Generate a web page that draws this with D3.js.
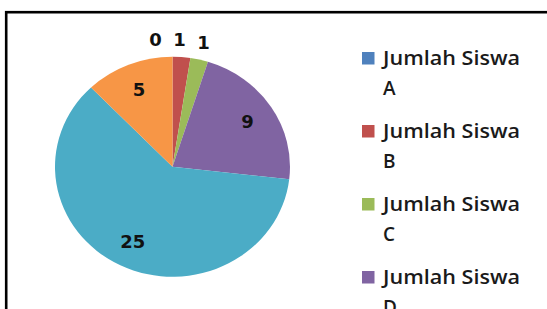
<!DOCTYPE html>
<html>
<head>
<meta charset="utf-8">
<script src="https://cdn.jsdelivr.net/npm/d3@7"></script>
<style>
  html, body { margin: 0; padding: 0; background: #fff; }
  svg { display: block; }
</style>
</head>
<body>
<div class="chart"></div>
<script>
// data
var categories = ["Jumlah Siswa A", "Jumlah Siswa B", "Jumlah Siswa C", "Jumlah Siswa D", "Jumlah Siswa E", "Jumlah Siswa F"];
var values = [0, 1, 1, 9, 25, 5];
var colors = ["#4F81BD", "#C0504D", "#9BBB59", "#8064A2", "#4BACC6", "#F79646"];
var legendShown = 4; // the rest of the legend falls outside the picture

(function () {
    var width = 547, height = 309;
    var cx = 172.5, cy = 166.7;
    var rx = 117.5, ry = 110;

    var svg = d3.select(".chart").append("svg")
        .attr("width", width)
        .attr("height", height);

    // frame of the chart area (runs off the right and bottom)
    svg.append("rect")
        .attr("x", 6.2)
        .attr("y", 12.2)
        .attr("width", width + 20)
        .attr("height", height + 20)
        .attr("fill", "none")
        .attr("stroke", "#000")
        .attr("stroke-width", 2.6);

    var pie = d3.pie().sort(null).value(function (d) { return d; });
    var arcs = pie(values);

    // the pie is a little wider than tall in the picture
    var g = svg.append("g")
        .attr("transform", "translate(" + cx + "," + cy + ") scale(" + (rx / ry) + ",1)");

    var arc = d3.arc().innerRadius(0).outerRadius(ry);

    g.selectAll("path")
        .data(arcs)
        .enter().append("path")
        .attr("d", arc)
        .attr("fill", function (d, i) { return colors[i]; });

    /*
        Labels: big slices inside, small ones just outside
    */
    var inner = d3.arc().innerRadius(ry * 0.76).outerRadius(ry * 0.76);
    var outer = d3.arc().innerRadius(ry * 1.16).outerRadius(ry * 1.16);
    var labels = arcs.map(function (d, i) {
        var share = (d.endAngle - d.startAngle) / (2 * Math.PI);
        var isOut = share < 0.05;
        var c = (isOut ? outer : inner).centroid(d);
        return { x: cx + c[0] * rx / ry, y: cy + c[1], text: String(values[i]), out: isOut };
    });
    // push crowded outside labels apart, right to left
    var outs = labels.filter(function (l) { return l.out; })
        .sort(function (a, b) { return b.x - a.x; });
    for (var k = 1; k < outs.length; k++) {
        if (outs[k - 1].x - outs[k].x < 24) outs[k].x = outs[k - 1].x - 24;
    }

    svg.selectAll("text.lbl")
        .data(labels)
        .enter().append("text")
        .attr("class", "lbl")
        .attr("x", function (d) { return d.x; })
        .attr("y", function (d) { return d.y; })
        .attr("dy", ".36em")
        .attr("text-anchor", "middle")
        .attr("font-family", "DejaVu Sans")
        .attr("font-weight", "bold")
        .attr("font-size", 18)
        .attr("fill", "#111")
        .text(function (d) { return d.text; });

    /*
        Legend
    */
    var legendY = d3.scalePoint()
        .domain(categories.slice(0, legendShown))
        .range([52, 271]);

    var items = svg.selectAll("g.legend")
        .data(categories.slice(0, legendShown))
        .enter().append("g")
        .attr("class", "legend")
        .attr("transform", function (d) { return "translate(362," + legendY(d) + ")"; });

    items.append("rect")
        .attr("width", 12.5)
        .attr("height", 12.5)
        .attr("fill", function (d, i) { return colors[i]; });

    items.append("text")
        .attr("y", 13)
        .attr("font-family", "Open Sans")
        .attr("font-weight", 600)
        .attr("font-size", 19)
        .attr("fill", "#1a1a1a")
        .each(function (d) {
            var words = d.split(" ");
            var t = d3.select(this);
            t.append("tspan").attr("x", 21)
                .attr("textLength", 137)
                .attr("lengthAdjust", "spacingAndGlyphs")
                .text(words.slice(0, 2).join(" "));
            t.append("tspan").attr("x", 21).attr("dy", 30).text(words[2]);
        });
})();
</script>
</body>
</html>
